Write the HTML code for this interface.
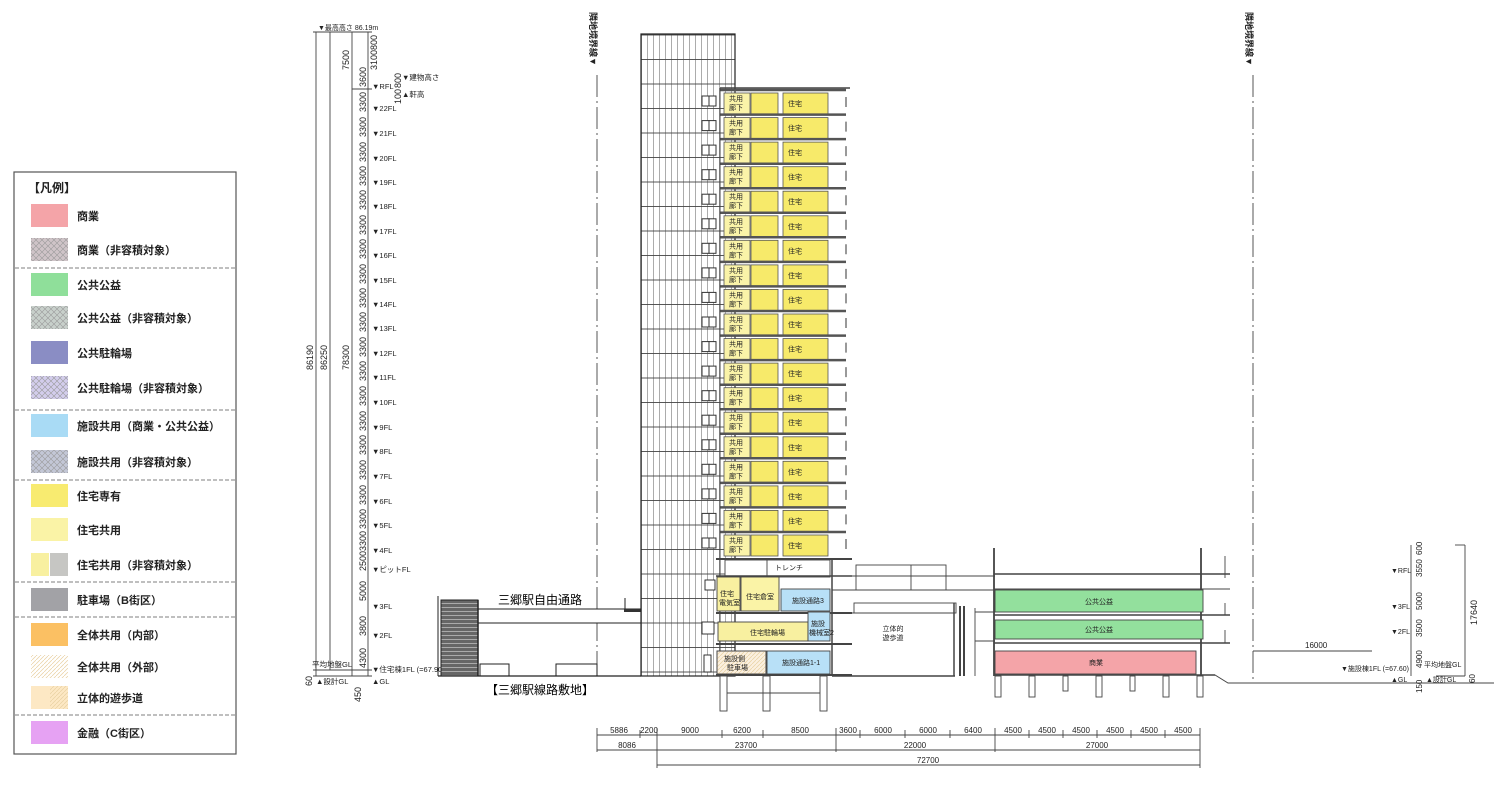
<!DOCTYPE html>
<html><head><meta charset="utf-8"><style>
html,body{margin:0;padding:0;background:#fff;}
svg{display:block;font-family:"Liberation Sans","Noto Sans CJK JP",sans-serif;}
.t{font-size:8px;fill:#222}
.s{font-size:7px;fill:#222}
.d{font-size:9px;fill:#222}
.lg{font-size:12px;fill:#222;font-weight:bold}
</style></head><body>
<svg width="1494" height="796" viewBox="0 0 1494 796" xmlns="http://www.w3.org/2000/svg">
<defs>
<pattern id="grid" width="6" height="24.5" patternUnits="userSpaceOnUse" x="641" y="10">
<rect width="6" height="24.5" fill="#fff"/><line x1="0.5" y1="0" x2="0.5" y2="24.5" stroke="#888" stroke-width="0.7"/><line x1="0" y1="0.5" x2="6" y2="0.5" stroke="#444" stroke-width="0.9"/>
</pattern>
<pattern id="x" width="6" height="6" patternUnits="userSpaceOnUse"><path d="M0 0L6 6M6 0L0 6" stroke="#999" stroke-width="0.6"/></pattern>
<pattern id="hat" width="4" height="4" patternUnits="userSpaceOnUse"><path d="M0 4L4 0" stroke="#e8cfa0" stroke-width="0.7"/></pattern>
<pattern id="rail" width="10" height="4" patternUnits="userSpaceOnUse"><rect width="10" height="4" fill="#666"/><line x1="0" y1="3.5" x2="10" y2="3.5" stroke="#bbb" stroke-width="0.8"/></pattern>
<g id="u">
<path d="M720 -3H846" stroke="#555" stroke-width="2.5" fill="none"/>
<rect x="724" y="0" width="26" height="21" fill="#faf3a8" stroke="#555" stroke-width="0.8"/>
<rect x="751" y="0" width="27" height="21" fill="#f7ea6a" stroke="#555" stroke-width="0.8"/>
<rect x="783" y="0" width="45" height="21" fill="#f7ea6a" stroke="#555" stroke-width="0.8"/>
<line x1="846" y1="4" x2="846" y2="14" stroke="#333"/>
<rect x="702" y="3" width="7" height="10" fill="#fff" stroke="#333"/><rect x="709" y="3" width="7" height="10" fill="#fff" stroke="#333"/>
</g>
</defs>

<!-- Legend -->
<rect x="14" y="172" width="222" height="582" fill="#fff" stroke="#555" stroke-width="1.2"/>
<text x="28" y="192" class="lg">【凡例】</text>
<g stroke="#555" stroke-dasharray="4,2" stroke-width="0.8">
<line x1="15" y1="268" x2="235" y2="268"/><line x1="15" y1="410" x2="235" y2="410"/><line x1="15" y1="480" x2="235" y2="480"/><line x1="15" y1="582" x2="235" y2="582"/><line x1="15" y1="617" x2="235" y2="617"/><line x1="15" y1="715" x2="235" y2="715"/>
</g>
<rect x="31" y="204" width="37" height="23" fill="#f4a4a8"/>
<rect x="31" y="238" width="37" height="23" fill="#cfc4c8"/><rect x="31" y="238" width="37" height="23" fill="url(#x)"/>
<rect x="31" y="273" width="37" height="23" fill="#8fdf9a"/>
<rect x="31" y="306" width="37" height="23" fill="#c8d0cb"/><rect x="31" y="306" width="37" height="23" fill="url(#x)"/>
<rect x="31" y="341" width="37" height="23" fill="#8a8dc4"/>
<rect x="31" y="376" width="37" height="23" fill="#d3cdec"/><rect x="31" y="376" width="37" height="23" fill="url(#x)"/>
<rect x="31" y="414" width="37" height="23" fill="#a9dbf5"/>
<rect x="31" y="450" width="37" height="23" fill="#c3c7d6"/><rect x="31" y="450" width="37" height="23" fill="url(#x)"/>
<rect x="31" y="484" width="37" height="23" fill="#f8eb70"/>
<rect x="31" y="518" width="37" height="23" fill="#faf3a6"/>
<rect x="31" y="553" width="18" height="23" fill="#f8f0a0"/><rect x="50" y="553" width="18" height="23" fill="#c6c6c3"/>
<rect x="31" y="588" width="37" height="23" fill="#a2a2a6"/>
<rect x="31" y="623" width="37" height="23" fill="#fbc063"/>
<rect x="31" y="655" width="37" height="23" fill="#fff"/><rect x="31" y="655" width="37" height="23" fill="url(#hat)"/>
<rect x="31" y="686" width="37" height="23" fill="#fde8c4"/><rect x="50" y="686" width="18" height="23" fill="url(#hat)"/>
<rect x="31" y="721" width="37" height="23" fill="#e6a2f3"/>
<g class="t" style="font-size:11px;font-weight:bold">
<text x="77" y="220">商業</text><text x="77" y="254">商業（非容積対象）</text>
<text x="77" y="289">公共公益</text><text x="77" y="322">公共公益（非容積対象）</text>
<text x="77" y="357">公共駐輪場</text><text x="77" y="392">公共駐輪場（非容積対象）</text>
<text x="77" y="430">施設共用（商業・公共公益）</text><text x="77" y="466">施設共用（非容積対象）</text>
<text x="77" y="500">住宅専有</text><text x="77" y="534">住宅共用</text>
<text x="77" y="569">住宅共用（非容積対象）</text><text x="77" y="604">駐車場（B街区）</text>
<text x="77" y="639">全体共用（内部）</text><text x="77" y="671">全体共用（外部）</text>
<text x="77" y="702">立体的遊歩道</text><text x="77" y="737">金融（C街区）</text>
</g>

<!-- centerlines -->
<g stroke="#444" stroke-width="0.9" stroke-dasharray="22,4,2,4">
<line x1="597" y1="75" x2="597" y2="676"/><line x1="1253" y1="75" x2="1253" y2="682"/>
</g>
<text transform="translate(590,12) rotate(90)" class="s" style="font-size:9px;font-weight:bold">隣地境界線▼</text>
<text transform="translate(1246,12) rotate(90)" class="s" style="font-size:9px;font-weight:bold">隣地境界線▼</text>

<!-- left vertical dims -->
<g stroke="#444" stroke-width="0.9">
<line x1="316" y1="32" x2="316" y2="676"/><line x1="330" y1="32" x2="330" y2="670"/><line x1="352" y1="32" x2="352" y2="676"/><line x1="368" y1="32" x2="368" y2="676"/>
<line x1="313" y1="32" x2="372" y2="32"/><line x1="352" y1="89" x2="372" y2="89"/><line x1="313" y1="676" x2="372" y2="676"/><line x1="313" y1="670" x2="372" y2="670"/>
</g>
<text x="318" y="30" class="s">▼最高高さ 86.19m</text>
<g class="d">
<text transform="translate(313,370) rotate(-90)">86190</text>
<text transform="translate(327,370) rotate(-90)">86250</text>
<text transform="translate(349,370) rotate(-90)">78300</text>
<text transform="translate(349,70) rotate(-90)">7500</text>
<text transform="translate(377,50) rotate(-90)">800</text>
<text transform="translate(377,70) rotate(-90)">3100</text>
<text transform="translate(366,87) rotate(-90)">3600</text>
<text transform="translate(401,88) rotate(-90)">800</text>
<text transform="translate(401,104) rotate(-90)">100</text>
<text transform="translate(366,112) rotate(-90)">3300</text><text transform="translate(366,137) rotate(-90)">3300</text><text transform="translate(366,162) rotate(-90)">3300</text><text transform="translate(366,186) rotate(-90)">3300</text><text transform="translate(366,210) rotate(-90)">3300</text><text transform="translate(366,235) rotate(-90)">3300</text><text transform="translate(366,259) rotate(-90)">3300</text><text transform="translate(366,284) rotate(-90)">3300</text><text transform="translate(366,308) rotate(-90)">3300</text><text transform="translate(366,332) rotate(-90)">3300</text><text transform="translate(366,357) rotate(-90)">3300</text><text transform="translate(366,381) rotate(-90)">3300</text><text transform="translate(366,406) rotate(-90)">3300</text><text transform="translate(366,431) rotate(-90)">3300</text><text transform="translate(366,455) rotate(-90)">3300</text><text transform="translate(366,480) rotate(-90)">3300</text><text transform="translate(366,505) rotate(-90)">3300</text><text transform="translate(366,529) rotate(-90)">3300</text><text transform="translate(366,551) rotate(-90)">3300</text><text transform="translate(366,571) rotate(-90)">2500</text><text transform="translate(366,601) rotate(-90)">5000</text><text transform="translate(366,636) rotate(-90)">3800</text><text transform="translate(366,668) rotate(-90)">4300</text>
<text transform="translate(312,686) rotate(-90)">60</text>
<text transform="translate(361,702) rotate(-90)">450</text>
</g>
<g class="s" style="font-size:7.5px">
<text x="402" y="80">▼建物高さ</text><text x="402" y="97">▲軒高</text>
<text x="372" y="89">▼RFL</text>
<text x="372" y="111">▼22FL</text><text x="372" y="136">▼21FL</text><text x="372" y="161">▼20FL</text><text x="372" y="185">▼19FL</text><text x="372" y="209">▼18FL</text><text x="372" y="234">▼17FL</text><text x="372" y="258">▼16FL</text><text x="372" y="283">▼15FL</text><text x="372" y="307">▼14FL</text><text x="372" y="331">▼13FL</text><text x="372" y="356">▼12FL</text><text x="372" y="380">▼11FL</text><text x="372" y="405">▼10FL</text><text x="372" y="430">▼9FL</text><text x="372" y="454">▼8FL</text><text x="372" y="479">▼7FL</text><text x="372" y="504">▼6FL</text><text x="372" y="528">▼5FL</text><text x="372" y="553">▼4FL</text><text x="372" y="572">▼ピットFL</text><text x="372" y="609">▼3FL</text><text x="372" y="638">▼2FL</text><text x="372" y="672">▼住宅棟1FL (=67.90)</text>
<text x="372" y="684">▲GL</text>
<text x="312" y="667">平均地盤GL</text><text x="316" y="684">▲設計GL</text>
</g>

<!-- railway / free passage -->
<rect x="441" y="600" width="37" height="76" fill="url(#rail)" stroke="#222"/>
<line x1="438" y1="596" x2="438" y2="676" stroke="#222"/>
<rect x="478" y="609" width="163" height="14" fill="#fff" stroke="#222"/>
<line x1="478" y1="600" x2="478" y2="676" stroke="#222" stroke-width="1.5"/>
<rect x="624" y="609" width="17" height="3" fill="#333"/><line x1="625" y1="598" x2="625" y2="609" stroke="#222"/>
<rect x="480" y="664" width="29" height="12" fill="#fff" stroke="#222"/><rect x="556" y="664" width="41" height="12" fill="#fff" stroke="#222"/>
<line x1="438" y1="676" x2="641" y2="676" stroke="#222" stroke-width="1.2"/>
<text x="540" y="604" style="font-size:12px" text-anchor="middle">三郷駅自由通路</text>
<text x="540" y="694" style="font-size:12px" text-anchor="middle">【三郷駅線路敷地】</text>

<!-- tower grid -->
<rect x="641" y="34" width="94" height="642" fill="url(#grid)" stroke="#222" stroke-width="1.2"/>

<!-- residential floors -->
<use href="#u" y="93"/><use href="#u" y="117.6"/><use href="#u" y="142.1"/><use href="#u" y="166.7"/><use href="#u" y="191.2"/><use href="#u" y="215.8"/><use href="#u" y="240.3"/><use href="#u" y="264.9"/><use href="#u" y="289.4"/><use href="#u" y="314"/><use href="#u" y="338.6"/><use href="#u" y="363.1"/><use href="#u" y="387.7"/><use href="#u" y="412.2"/><use href="#u" y="436.8"/><use href="#u" y="461.3"/><use href="#u" y="485.9"/><use href="#u" y="510.4"/><use href="#u" y="535"/>
<line x1="720" y1="88" x2="850" y2="88" stroke="#444" stroke-width="1.5"/>
<line x1="720" y1="88" x2="720" y2="676" stroke="#444"/>
<g class="s">
<text x="729" y="101">共用</text><text x="729" y="110">廊下</text><text x="788" y="106">住宅</text>
<text x="729" y="125.6">共用</text><text x="729" y="134.6">廊下</text><text x="788" y="130.6">住宅</text>
<text x="729" y="150.1">共用</text><text x="729" y="159.1">廊下</text><text x="788" y="155.1">住宅</text>
<text x="729" y="174.7">共用</text><text x="729" y="183.7">廊下</text><text x="788" y="179.7">住宅</text>
<text x="729" y="199.2">共用</text><text x="729" y="208.2">廊下</text><text x="788" y="204.2">住宅</text>
<text x="729" y="223.8">共用</text><text x="729" y="232.8">廊下</text><text x="788" y="228.8">住宅</text>
<text x="729" y="248.3">共用</text><text x="729" y="257.3">廊下</text><text x="788" y="253.3">住宅</text>
<text x="729" y="272.9">共用</text><text x="729" y="281.9">廊下</text><text x="788" y="277.9">住宅</text>
<text x="729" y="297.4">共用</text><text x="729" y="306.4">廊下</text><text x="788" y="302.4">住宅</text>
<text x="729" y="322">共用</text><text x="729" y="331">廊下</text><text x="788" y="327">住宅</text>
<text x="729" y="346.6">共用</text><text x="729" y="355.6">廊下</text><text x="788" y="351.6">住宅</text>
<text x="729" y="371.1">共用</text><text x="729" y="380.1">廊下</text><text x="788" y="376.1">住宅</text>
<text x="729" y="395.7">共用</text><text x="729" y="404.7">廊下</text><text x="788" y="400.7">住宅</text>
<text x="729" y="420.2">共用</text><text x="729" y="429.2">廊下</text><text x="788" y="425.2">住宅</text>
<text x="729" y="444.8">共用</text><text x="729" y="453.8">廊下</text><text x="788" y="449.8">住宅</text>
<text x="729" y="469.3">共用</text><text x="729" y="478.3">廊下</text><text x="788" y="474.3">住宅</text>
<text x="729" y="493.9">共用</text><text x="729" y="502.9">廊下</text><text x="788" y="498.9">住宅</text>
<text x="729" y="518.4">共用</text><text x="729" y="527.4">廊下</text><text x="788" y="523.4">住宅</text>
<text x="729" y="543">共用</text><text x="729" y="552">廊下</text><text x="788" y="548">住宅</text>
</g>

<!-- podium -->
<g stroke="#444" stroke-width="0.9">
<line x1="716" y1="559" x2="852" y2="559" stroke-width="2"/>
<rect x="725" y="560" width="105" height="17" fill="#fff"/>
<line x1="767" y1="560" x2="767" y2="577"/>
<line x1="716" y1="576" x2="852" y2="576" stroke-width="1.5"/>
<rect x="717" y="577" width="23" height="34" fill="#f8f0a0"/>
<rect x="741" y="577" width="38" height="34" fill="#faf3a6"/>
<rect x="781" y="589" width="49" height="22" fill="#b8e0f7"/>
<line x1="716" y1="613" x2="852" y2="613" stroke-width="2"/>
<rect x="718" y="622" width="90" height="19" fill="#f8f0a0"/>
<rect x="808" y="612" width="22" height="29" fill="#b8e0f7"/>
<line x1="716" y1="644" x2="852" y2="644" stroke-width="2"/>
<rect x="717" y="651" width="49" height="23" fill="#fbf0e0"/><rect x="717" y="651" width="49" height="23" fill="url(#hat)"/>
<rect x="767" y="651" width="63" height="23" fill="#b8e0f7"/>
<line x1="716" y1="675" x2="852" y2="675" stroke-width="2"/>
<line x1="832" y1="560" x2="832" y2="676" stroke-width="1.5"/>
<rect x="720" y="676" width="7" height="35" fill="#fff"/><rect x="763" y="676" width="7" height="35" fill="#fff"/><rect x="820" y="676" width="7" height="35" fill="#fff"/>
<line x1="727" y1="693" x2="820" y2="693"/>
<rect x="705" y="580" width="10" height="10" fill="#fff" stroke="#222"/><rect x="702" y="622" width="12" height="12" fill="#fff" stroke="#222"/><rect x="704" y="655" width="7" height="17" fill="#fff" stroke="#222"/>
</g>
<g class="s">
<text x="775" y="570">トレンチ</text>
<text x="720" y="596">住宅</text><text x="719" y="605">電気室</text>
<text x="746" y="599">住宅倉室</text><text x="792" y="603">施設通路3</text>
<text x="750" y="635">住宅駐輪場</text><text x="811" y="626">施設</text><text x="809" y="635">機械室2</text>
<text x="724" y="661">施設側</text><text x="727" y="670">駐車場</text><text x="782" y="665">施設通路1-1</text>
</g>

<!-- bridge / walkway -->
<g stroke="#444" stroke-width="0.9" fill="#fff">
<rect x="856" y="565" width="90" height="25"/><line x1="911" y1="565" x2="911" y2="590"/>
<line x1="832" y1="590" x2="995" y2="590"/><line x1="832" y1="576" x2="995" y2="576"/>
<rect x="854" y="603" width="102" height="10"/>
<line x1="832" y1="613" x2="955" y2="613"/>
<line x1="832" y1="676" x2="955" y2="676" stroke-width="1.5"/>
<line x1="954" y1="603" x2="954" y2="676" stroke-width="1.5"/>
<line x1="960" y1="606" x2="960" y2="676" stroke-width="2"/><line x1="964" y1="606" x2="964" y2="676" stroke-width="2"/>
<line x1="975" y1="608" x2="975" y2="676"/>
<line x1="975" y1="612" x2="995" y2="612"/><line x1="975" y1="641" x2="995" y2="641"/>
</g>
<text x="893" y="631" class="s" text-anchor="middle">立体的</text><text x="893" y="640" class="s" text-anchor="middle">遊歩道</text>

<!-- right building -->
<g stroke="#444" stroke-width="0.9">
<line x1="994" y1="548" x2="994" y2="676" stroke-width="1.8"/>
<line x1="1201" y1="548" x2="1201" y2="676" stroke-width="1.8"/>
<line x1="994" y1="574" x2="1230" y2="574" stroke-width="1.5"/>
<line x1="994" y1="589" x2="1230" y2="589"/>
<line x1="1225" y1="556" x2="1225" y2="578"/>
<rect x="995" y="590" width="208" height="22" fill="#93e09d"/>
<line x1="994" y1="615" x2="1230" y2="615" stroke-width="1.5"/>
<rect x="995" y="620" width="208" height="19" fill="#93e09d"/>
<line x1="994" y1="643" x2="1230" y2="643" stroke-width="1.5"/>
<rect x="995" y="651" width="201" height="23" fill="#f4a4a8"/>
<line x1="994" y1="675" x2="1215" y2="675" stroke-width="1.5"/>
<path d="M1196 675 L1215 675 L1228 683 L1494 683" fill="none"/>
<g fill="#fff">
<rect x="995" y="676" width="6" height="21"/><rect x="1029" y="676" width="6" height="21"/><rect x="1063" y="676" width="5" height="15"/><rect x="1096" y="676" width="6" height="21"/><rect x="1130" y="676" width="5" height="15"/><rect x="1163" y="676" width="6" height="21"/><rect x="1197" y="676" width="6" height="21"/>
</g>
<line x1="1225" y1="603" x2="1225" y2="615"/><line x1="1225" y1="630" x2="1225" y2="643"/>
</g>
<g class="s" text-anchor="middle"><text x="1099" y="604">公共公益</text><text x="1099" y="632">公共公益</text><text x="1096" y="665">商業</text></g>

<!-- right dims -->
<g stroke="#444" stroke-width="0.9">
<line x1="1411" y1="545" x2="1411" y2="676"/><line x1="1465" y1="545" x2="1465" y2="676"/>
<line x1="1455" y1="545" x2="1465" y2="545"/><line x1="1436" y1="676" x2="1465" y2="676"/>
<line x1="1253" y1="651" x2="1372" y2="651"/>
</g>
<g class="s">
<text x="1305" y="648" style="font-size:8px">16000</text>
<text x="1391" y="573">▼RFL</text><text x="1391" y="609">▼3FL</text><text x="1391" y="634">▼2FL</text>
<text x="1341" y="671">▼施設棟1FL (=67.60)</text><text x="1391" y="682">▲GL</text>
<text x="1424" y="667">平均地盤GL</text><text x="1426" y="682">▲設計GL</text>
</g>
<g class="d" style="font-size:8px">
<text transform="translate(1422,555) rotate(-90)">600</text><text transform="translate(1422,577) rotate(-90)">3550</text><text transform="translate(1422,610) rotate(-90)">5000</text><text transform="translate(1422,637) rotate(-90)">3500</text><text transform="translate(1422,668) rotate(-90)">4900</text><text transform="translate(1422,693) rotate(-90)">150</text>
<text transform="translate(1477,625) rotate(-90)" style="font-size:9px">17640</text>
<text transform="translate(1475,683) rotate(-90)">60</text>
</g>

<!-- bottom dims -->
<g stroke="#444" stroke-width="0.9">
<line x1="597" y1="735" x2="1200" y2="735"/><line x1="597" y1="750" x2="1200" y2="750"/><line x1="657" y1="765" x2="1200" y2="765"/>
<line x1="597" y1="728" x2="597" y2="752"/><line x1="640" y1="730" x2="640" y2="738"/><line x1="657" y1="728" x2="657" y2="768"/><line x1="722" y1="730" x2="722" y2="738"/><line x1="763" y1="730" x2="763" y2="738"/><line x1="836" y1="728" x2="836" y2="752"/><line x1="860" y1="730" x2="860" y2="738"/><line x1="905" y1="730" x2="905" y2="738"/><line x1="950" y1="730" x2="950" y2="738"/><line x1="995" y1="728" x2="995" y2="752"/><line x1="1029" y1="730" x2="1029" y2="738"/><line x1="1063" y1="730" x2="1063" y2="738"/><line x1="1097" y1="730" x2="1097" y2="738"/><line x1="1131" y1="730" x2="1131" y2="738"/><line x1="1165" y1="730" x2="1165" y2="738"/><line x1="1200" y1="728" x2="1200" y2="768"/>
</g>
<g class="s" style="font-size:8px" text-anchor="middle">
<text x="619" y="733">5886</text><text x="649" y="733">2200</text><text x="690" y="733">9000</text><text x="742" y="733">6200</text><text x="800" y="733">8500</text><text x="848" y="733">3600</text><text x="883" y="733">6000</text><text x="928" y="733">6000</text><text x="973" y="733">6400</text><text x="1013" y="733">4500</text><text x="1047" y="733">4500</text><text x="1081" y="733">4500</text><text x="1115" y="733">4500</text><text x="1149" y="733">4500</text><text x="1183" y="733">4500</text>
<text x="627" y="748">8086</text><text x="746" y="748">23700</text><text x="915" y="748">22000</text><text x="1097" y="748">27000</text>
<text x="928" y="763">72700</text>
</g>
</svg>
</body></html>
